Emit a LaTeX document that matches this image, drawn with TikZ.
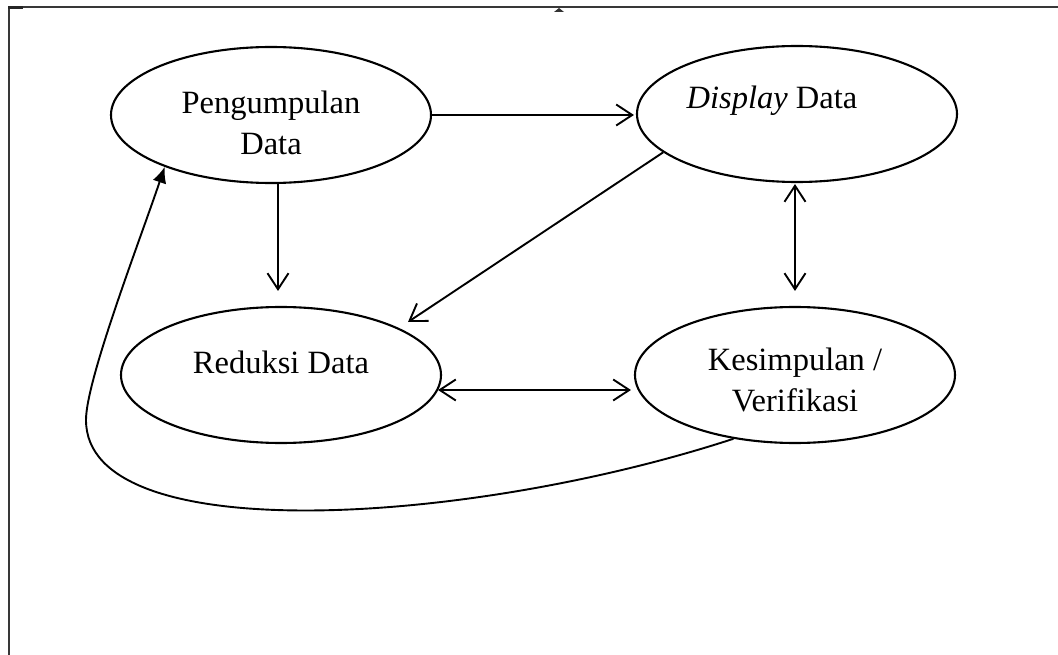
\documentclass[tikz,border=0pt]{standalone}
\usepackage{fontspec}
\setmainfont{Liberation Serif}
\usetikzlibrary{shapes.geometric,arrows.meta,calc}
\begin{document}
\begin{tikzpicture}[x=1pt,y=-1pt,
  ell/.style={draw,ellipse,line width=2.1pt,minimum width=320pt,minimum height=136pt,inner sep=0pt},
  lbl/.style={align=center,inner sep=0pt,font=\fontsize{32.5}{41}\selectfont},
  barb/.tip={Straight Barb[length=16pt,width=21pt]},
  arr/.style={line width=1.9pt,-barb},
  darr/.style={line width=1.9pt,barb-barb},
  loopback/.style={line width=1.9pt,-{Latex[length=16pt,width=14pt]}},
  frameline/.style={line width=2pt,draw=black!78}]
\useasboundingbox (0,0) rectangle (1058,655);
% page frame
\draw[frameline] (9,655) -- (9,7) -- (1058,7);
\draw[line width=2.6pt,black!85] (8,7.5) -- (23,7.5);
\fill[black!80] (554,12) -- (559,8) -- (564,12) -- cycle;
% ellipses
\node[ell] (P) at (271,115) {};
\node[ell] (D) at (797,114) {};
\node[ell] (R) at (281,375) {};
\node[ell] (K) at (795,375) {};
% labels
\node[lbl] (Pt) at (271,123) {Pengumpulan\\Data};
\node[lbl] (Dt) at (772,101) {\textit{Display} Data};
\node[lbl] (Rt) at (281,362) {Reduksi Data};
\node[lbl] (Kt) at (795,380) {Kesimpulan /\\Verifikasi};
% connectors
\draw[arr] (P.east) -- ($(P.east -| D.west)+(-2,0)$);
\draw[arr] ($(P.south)+(7,0)$) -- ($(R.north)+(-3,-15)$);
\draw[arr] (D.196) -- ($(R.center)+(127,-53)$);
\draw[darr] ($(D.south)+(-2,1)$) -- ($(K.north)+(0,-15)$);
\draw[darr] ($(R.east)+(-4,15)$) -- ($(K.west)+(-3,15)$);
\draw[loopback] (K.226) .. controls (470,525) and (86,550) .. (86,420)
  .. controls (86,380) and (140,240) .. (P.206);
\end{tikzpicture}
\end{document}
